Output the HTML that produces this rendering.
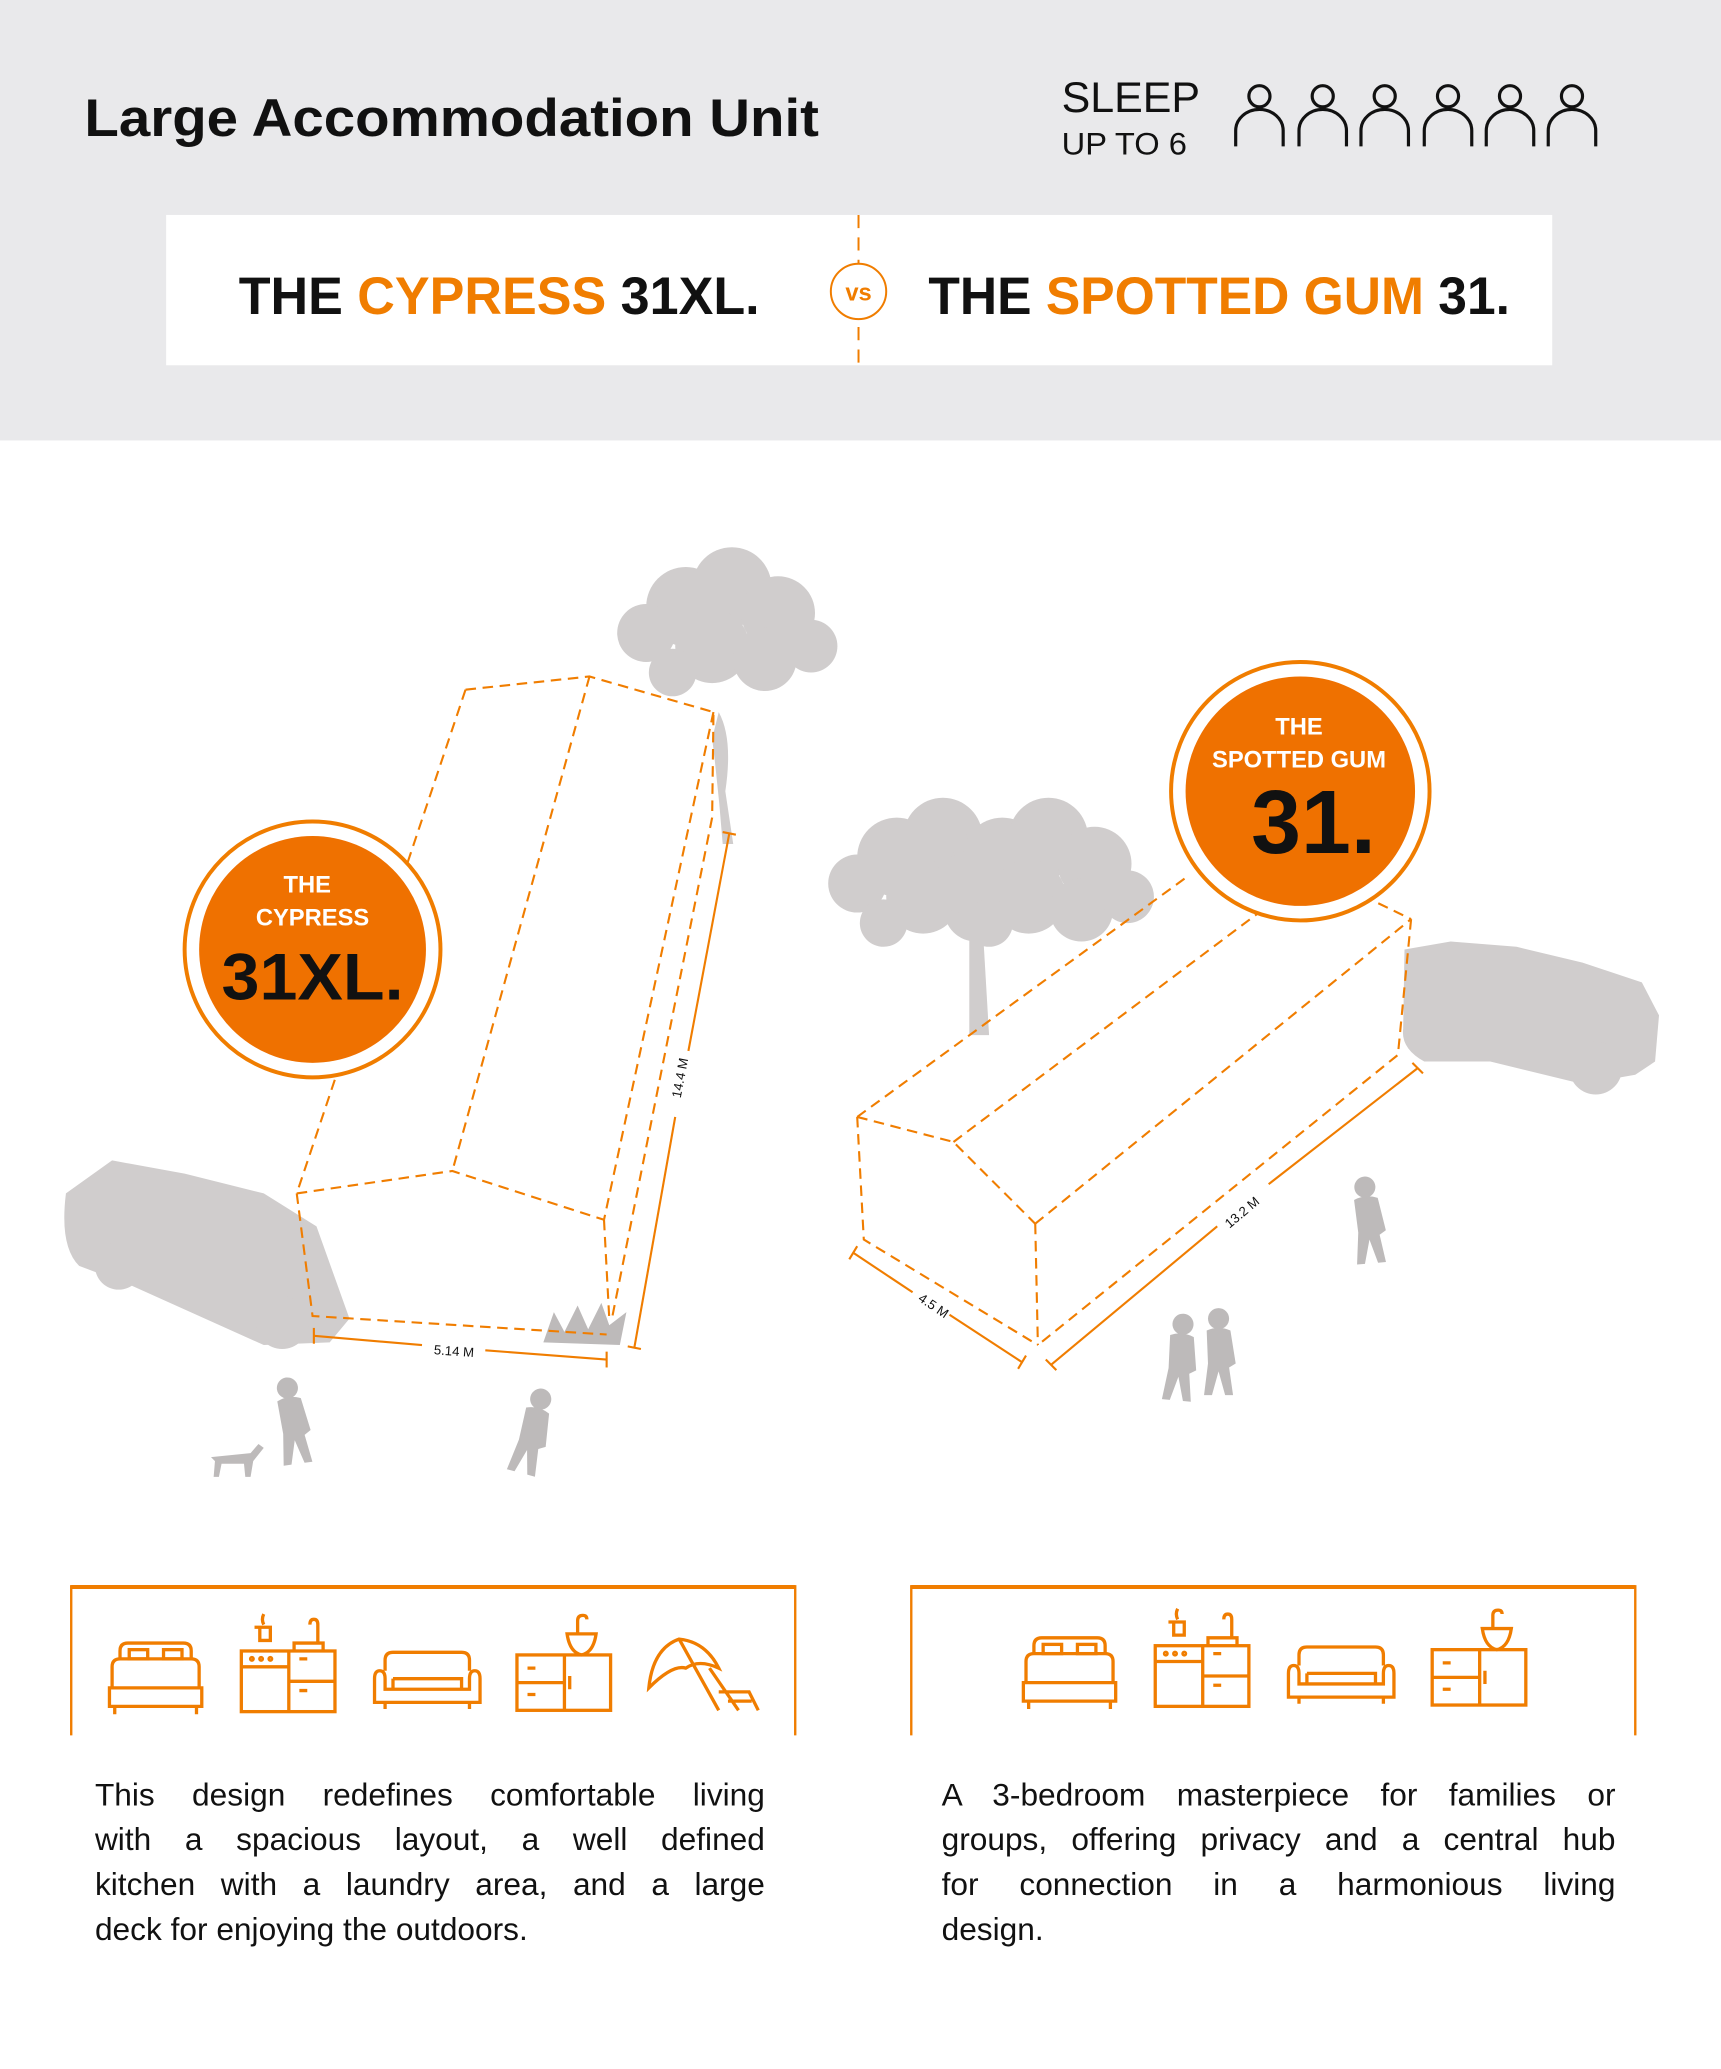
<!DOCTYPE html>
<html><head><meta charset="utf-8"><style>
html,body{margin:0;padding:0;background:#fff}
svg{display:block}
text{font-family:"Liberation Sans",sans-serif}
.para{font-family:"Liberation Sans",sans-serif;font-size:24px;line-height:34px;color:#111}
.para div{text-align:justify;text-align-last:justify;white-space:nowrap}
.para div.l{text-align:left;text-align-last:left}
</style></head><body>
<svg width="1721" height="2069" viewBox="0 0 1305 1569" preserveAspectRatio="none" xmlns="http://www.w3.org/2000/svg">
<defs>
<g id="person" fill="none" stroke="#111" stroke-width="2.4">
<circle cx="0" cy="-38" r="8"/>
<path d="M-18,0 V-12 A18,16 0 0 1 18,-12 V0"/>
</g>
<g id="bed" fill="none" stroke="#f07d00" stroke-width="2.5">
<path d="M4,30 V14 Q4,8 10,8 H64 Q70,8 70,14 V30 Z M2,30 H72 V44 H2 Z M6,44 V50 M68,44 V50"/>
<path d="M10,8 V2 Q10,-4 16,-4 H58 Q64,-4 64,2 V8"/>
<rect x="17" y="1" width="14" height="7"/><rect x="43" y="1" width="14" height="7"/>
</g>
<g id="kitchen" fill="none" stroke="#f07d00" stroke-width="2.5">
<rect x="0" y="0" width="71" height="46"/><path d="M36,0 V46 M0,12 H36 M36,23 H71 M44,6 H50 M44,30 H50"/>
<circle cx="8" cy="6" r="1"/><circle cx="15" cy="6" r="1"/><circle cx="22" cy="6" r="1"/>
<path d="M10,-18 H22 V-8 H14 V-18 M17,-20 Q15,-24 17,-28 M40,0 V-6 H62 V0 M58,-6 V-20 Q58,-24 55,-24 Q52,-24 52,-20"/>
</g>
<g id="sofa" fill="none" stroke="#f07d00" stroke-width="2.5">
<path d="M8,14 V6 Q8,0 14,0 H66 Q72,0 72,6 V14"/>
<path d="M4,14 Q0,14 0,20 V38 H80 V20 Q80,14 76,14 Q72,14 72,20 V28 H8 V20 Q8,14 4,14 Z M14,20 H66 V28 M14,20 V28 M8,38 V43 M72,38 V43"/>
</g>
<g id="sink" fill="none" stroke="#f07d00" stroke-width="2.5">
<rect x="0" y="0" width="71" height="42"/><path d="M36,0 V42 M0,21 H36 M8,10 H14 M8,30 H14 M40,16 V26"/>
<path d="M38,-16 H60 Q58,-2 49,0 Q40,-2 38,-16 Z M46,-16 V-26 Q46,-30 50,-30 Q53,-30 53,-27"/>
</g>
<g id="tree" fill="#d0cdcd">
<circle cx="0" cy="0" r="30"/><circle cx="35" cy="-15" r="30"/><circle cx="70" cy="5" r="28"/><circle cx="-30" cy="20" r="22"/><circle cx="20" cy="30" r="28"/><circle cx="60" cy="40" r="24"/><circle cx="95" cy="30" r="20"/><circle cx="-10" cy="50" r="18"/>
</g>
<g id="man" fill="#bdbaba">
<circle cx="0" cy="-58" r="8"/><path d="M-9,-49 Q0,-53 9,-49 L13,-24 L8,-21 L11,0 L5,0 L0,-18 L-5,0 L-11,0 L-8,-24 Z"/>
</g>
</defs>

<rect x="0" y="0" width="1305" height="334" fill="#e9e9eb"/>
<text x="64" y="103" font-size="40" font-weight="bold" textLength="557" lengthAdjust="spacingAndGlyphs" fill="#111">Large Accommodation Unit</text>
<text x="805" y="85" font-size="32" textLength="105" lengthAdjust="spacingAndGlyphs" fill="#111">SLEEP</text>
<text x="805" y="117" font-size="24" textLength="95" lengthAdjust="spacingAndGlyphs" fill="#111">UP TO 6</text>
<use href="#person" x="955" y="111"/><use href="#person" x="1003" y="111"/><use href="#person" x="1050" y="111"/><use href="#person" x="1098" y="111"/><use href="#person" x="1145" y="111"/><use href="#person" x="1192" y="111"/>

<rect x="126" y="163" width="1051" height="114" fill="#fff"/>
<line x1="651" y1="163" x2="651" y2="277" stroke="#f07d00" stroke-width="1.5" stroke-dasharray="10,7"/>
<circle cx="651" cy="221" r="21" fill="#fff" stroke="#f07d00" stroke-width="1.5"/>
<text x="651" y="228" font-size="18" font-weight="bold" text-anchor="middle" fill="#f07d00">vs</text>
<text x="181" y="238" font-size="40" font-weight="bold" textLength="395" lengthAdjust="spacingAndGlyphs" fill="#111">THE <tspan fill="#f07d00">CYPRESS</tspan> 31XL.</text>
<text x="704" y="238" font-size="40" font-weight="bold" textLength="441" lengthAdjust="spacingAndGlyphs" fill="#111">THE <tspan fill="#f07d00">SPOTTED GUM</tspan> 31.</text>

<!-- trees -->
<use href="#tree" x="520" y="460"/>
<path d="M545,540 Q556,560 550,600 L556,640 L548,640 Q545,600 540,560 Z" fill="#d0cdcd"/>
<use href="#tree" x="680" y="650"/>
<use href="#tree" x="760" y="650"/>
<path d="M735,700 L745,700 L750,785 L735,785 Z" fill="#d0cdcd"/>
<!-- cars -->
<path d="M50,905 L85,880 L140,890 L200,905 L240,930 L265,1000 L250,1018 L200,1020 L100,975 L60,960 Q45,945 50,905 Z" fill="#d0cdcd"/>
<circle cx="90" cy="960" r="18" fill="#d0cdcd"/><circle cx="214" cy="1003" r="20" fill="#d0cdcd"/>
<path d="M1065,720 L1100,714 L1150,718 L1200,730 L1245,745 L1258,770 L1255,805 L1240,815 L1200,822 L1130,805 L1080,805 Q1062,795 1064,780 Z" fill="#d0cdcd"/>
<circle cx="1210" cy="810" r="20" fill="#d0cdcd"/>
<!-- bush -->
<path d="M412,1018 L420,995 L428,1010 L438,990 L446,1008 L456,988 L462,1005 L475,995 L470,1020 Z" fill="#bdbaba"/>
<!-- people -->
<use href="#man" x="226" y="1110" transform="rotate(-8 226 1110)"/>
<use href="#man" x="395" y="1117" transform="rotate(15 395 1117)"/>
<path d="M160,1105 L190,1102 L196,1095 L200,1098 L192,1108 L190,1120 L186,1120 L185,1110 L168,1110 L166,1120 L162,1120 L163,1108 Z" fill="#bdbaba"/>
<use href="#man" x="1040" y="958" transform="rotate(-5 1040 958)"/>
<use href="#man" x="924" y="1058"/><use href="#man" x="892" y="1062" transform="rotate(5 892 1062)"/>

<!-- cypress box -->
<g fill="none" stroke="#f07d00" stroke-width="1.6" stroke-dasharray="8,5">
<path d="M353,523 L447,513 L541,540"/>
<path d="M353,523 L225,905"/><path d="M447,513 L343,888"/><path d="M541,540 L458,925"/>
<path d="M541,542 L540,620 L464,1000"/>
<path d="M225,905 L343,888 L458,925"/><path d="M225,905 L237,998 L460,1012"/><path d="M458,925 L462,1000"/>
</g>
<g stroke="#f07d00" stroke-width="1.6">
<line x1="238" y1="1013" x2="320" y2="1020"/><line x1="368" y1="1024" x2="460" y2="1031"/>
<line x1="238" y1="1007" x2="238" y2="1019"/><line x1="460" y1="1025" x2="460" y2="1037"/>
<line x1="553" y1="632" x2="522" y2="797"/><line x1="512" y1="847" x2="481" y2="1022"/>
<line x1="548" y1="631" x2="558" y2="633"/><line x1="476" y1="1021" x2="486" y2="1023"/>
</g>
<text x="344" y="1028" font-size="10" text-anchor="middle" fill="#111" transform="rotate(4 344 1028)">5.14 M</text>
<text x="519" y="818" font-size="10" text-anchor="middle" fill="#111" transform="rotate(-79 519 818)">14.4 M</text>

<circle cx="237" cy="720" r="97" fill="#fff" stroke="#f07d00" stroke-width="3"/>
<circle cx="237" cy="720" r="86" fill="#ef7100"/>
<text x="233" y="677" font-size="18" font-weight="bold" text-anchor="middle" fill="#fff">THE</text>
<text x="237" y="702" font-size="18" font-weight="bold" text-anchor="middle" fill="#fff">CYPRESS</text>
<text x="237" y="758" font-size="50" font-weight="bold" text-anchor="middle" textLength="138" lengthAdjust="spacingAndGlyphs" fill="#111">31XL.</text>

<!-- spotted gum box -->
<g fill="none" stroke="#f07d00" stroke-width="1.6" stroke-dasharray="8,5">
<path d="M650,847 L723,866 L785,928"/>
<path d="M650,847 L900,665"/><path d="M723,866 L960,688"/><path d="M785,928 L1070,697"/><path d="M1010,668 L1070,697"/>
<path d="M650,847 L655,940 L787,1020"/><path d="M785,928 L787,1020"/><path d="M1070,697 L1060,800 L787,1020"/>
</g>
<g stroke="#f07d00" stroke-width="1.6">
<line x1="647" y1="950" x2="692" y2="980"/><line x1="720" y1="997" x2="775" y2="1033"/>
<line x1="644" y1="955" x2="650" y2="945"/><line x1="772" y1="1038" x2="778" y2="1028"/>
<line x1="797" y1="1035" x2="923" y2="930"/><line x1="962" y1="898" x2="1075" y2="810"/>
<line x1="793" y1="1031" x2="801" y2="1039"/><line x1="1071" y1="806" x2="1079" y2="814"/>
</g>
<text x="706" y="993" font-size="10" text-anchor="middle" fill="#111" transform="rotate(34 706 993)">4.5 M</text>
<text x="944" y="922" font-size="10" text-anchor="middle" fill="#111" transform="rotate(-40 944 922)">13.2 M</text>

<circle cx="986" cy="600" r="98" fill="#fff" stroke="#f07d00" stroke-width="3"/>
<circle cx="986" cy="600" r="87" fill="#ef7100"/>
<text x="985" y="557" font-size="18" font-weight="bold" text-anchor="middle" fill="#fff">THE</text>
<text x="985" y="582" font-size="18" font-weight="bold" text-anchor="middle" fill="#fff">SPOTTED GUM</text>
<text x="996" y="647" font-size="68" font-weight="bold" text-anchor="middle" fill="#111">31.</text>

<!-- bottom boxes -->
<g fill="none" stroke="#f07d00">
<path d="M54,1316 V1203 H603 V1316" stroke-width="1.8"/>
<line x1="54" y1="1203.5" x2="603" y2="1203.5" stroke-width="3"/>
<path d="M691,1316 V1203 H1240 V1316" stroke-width="1.8"/>
<line x1="691" y1="1203.5" x2="1240" y2="1203.5" stroke-width="3"/>
</g>
<use href="#bed" x="81" y="1250"/><use href="#kitchen" x="183" y="1252"/><use href="#sofa" x="284" y="1253"/><use href="#sink" x="392" y="1255"/>
<g fill="none" stroke="#f07d00" stroke-width="2.5">
<path d="M492,1280 Q495,1250 515,1243 Q535,1245 545,1265 Q530,1258 520,1265 Q510,1262 492,1280 Z M515,1243 L545,1297"/>
<path d="M538,1265 L560,1297 M545,1283 H568 L575,1297 M552,1290 H570"/>
</g>
<use href="#bed" x="774" y="1246"/><use href="#kitchen" x="876" y="1248"/><use href="#sofa" x="977" y="1249"/><use href="#sink" x="1086" y="1251"/>

<foreignObject x="72" y="1345" width="508" height="150">
<div xmlns="http://www.w3.org/1999/xhtml" class="para">
<div>This design redefines comfortable living</div>
<div>with a spacious layout, a well defined</div>
<div>kitchen with a laundry area, and a large</div>
<div class="l">deck for enjoying the outdoors.</div>
</div>
</foreignObject>
<foreignObject x="714" y="1345" width="511" height="150">
<div xmlns="http://www.w3.org/1999/xhtml" class="para">
<div>A 3-bedroom masterpiece for families or</div>
<div>groups, offering privacy and a central hub</div>
<div>for connection in a harmonious living</div>
<div class="l">design.</div>
</div>
</foreignObject>
</svg>
</body></html>
